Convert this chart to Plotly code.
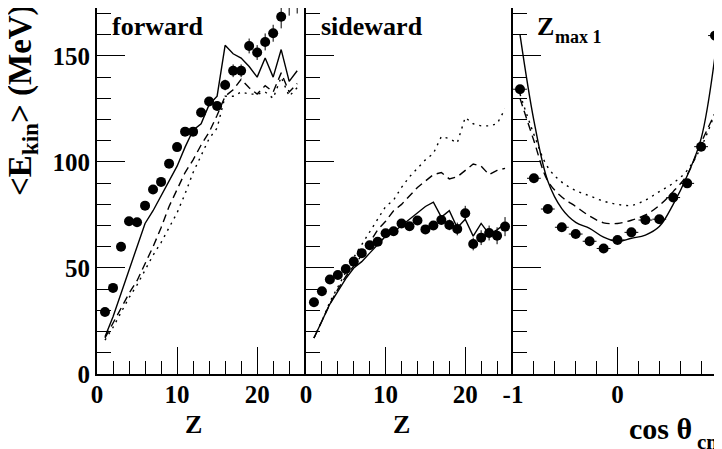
import plotly.graph_objects as go

# forward panel
z_fwd = list(range(1, 26))
fwd_data = [29.2, 40.6, 60.0, 72.0, 71.6, 79.4, 87.0, 90.6, 99.2, 107.0, 114.3, 114.3, 123.3,
            128.5, 126.4, 136.3, 143.0, 143.0, 154.7, 151.6, 156.6, 160.7, 168.5, 182.0, 185.0]
fwd_err = [1, 1, 1, 1, 1, 1, 1, 1, 1.2, 1.2, 1.5, 1.5, 1.8, 2, 2, 2.5, 3, 3, 3.5, 3.5, 4, 4, 5.5, 13, 15]
fwd_solid = [17.6, 27, 38, 49, 60, 71, 77, 84, 91, 98, 107, 115, 118, 127, 131, 155, 151, 149,
             145, 140, 149, 140, 153, 138, 143]
fwd_dash = [17, 24, 31, 38, 44, 52, 60, 69, 79, 87, 95, 101, 108, 114, 122, 131, 134, 139,
            135, 132, 136, 133, 142, 133, 137]
fwd_dot = [16, 22, 29, 36, 42, 49, 56, 62, 69, 76, 85, 95, 103, 111, 116, 131, 131, 133,
           132, 132, 133, 130, 140, 131, 135]

# sideward panel
z_side = list(range(1, 26))
side_data = [33.8, 39.0, 44.6, 46.7, 49.5, 53.0, 57.0, 60.7, 62.4, 66.4, 67.3, 71.0, 69.7,
             72.4, 68.2, 70.0, 72.6, 70.3, 68.4, 75.8, 61.3, 64.3, 66.5, 65.2, 69.5]
side_err = [1, 1, 1, 1, 1, 1, 1, 1, 1, 1, 1.2, 1.2, 1.5, 1.5, 1.8, 2, 2, 2.5, 3, 3.5, 3, 3.5, 3.5, 4, 4.5]
side_solid = [17, 25, 33, 39, 45, 50, 53, 57, 61, 65, 67, 70, 73, 76, 79, 81, 74, 77, 69, 73,
              65, 71, 66, 68, 71]
side_dash = [17, 25, 33, 40, 46, 51, 56, 62, 68, 72, 77, 80, 84, 88, 91, 94, 95, 92, 93, 96,
             99, 98, 94, 96, 97]
side_dot = [17, 25, 34, 41, 48, 55, 61, 67, 73, 79, 82, 88, 93, 97, 101, 104, 112, 111, 109,
            121, 118, 117, 117, 118, 125]

# Zmax1 panel
cos_bins = [-0.933, -0.8, -0.667, -0.533, -0.4, -0.267, -0.133, 0.0, 0.133, 0.267, 0.4,
            0.533, 0.667, 0.8, 0.933]
z1_data = [134.3, 92.3, 77.8, 69.2, 66.0, 62.6, 59.2, 63.2, 66.8, 72.6, 73.0, 83.2, 89.9, 107.2, 159.6]
z1_err = [1.5, 1.2, 1, 1, 1, 1, 1, 1, 1, 1, 1, 1.2, 1.2, 1.5, 2]
z1_solid = [160, 119.5, 91, 78, 71.5, 68.7, 64.5, 62.5, 64, 65.5, 69.5, 80, 93.5, 111, 150]
z1_dash = [130, 110, 91, 83.5, 79, 74.5, 71.3, 71, 72.5, 75, 79.5, 86, 94, 109, 123]
z1_dot = [132, 113, 97.5, 90.5, 86.5, 84, 81.5, 80, 79.5, 82, 86, 90, 96, 107, 123]

FONT = 'Liberation Serif'
BLACK = 'black'

fig = go.Figure()

panels = [
    ('x', 'y', z_fwd, fwd_data, fwd_err, fwd_solid, fwd_dash, fwd_dot, 'linear', None),
    ('x2', 'y2', z_side, side_data, side_err, side_solid, side_dash, side_dot, 'linear', None),
    ('x3', 'y3', cos_bins, z1_data, z1_err, z1_solid, z1_dash, z1_dot, 'spline', 0.066),
]

for xa, ya, xs, data, err, solid, dash, dot, shape, xerr in panels:
    for ys, d in [(solid, 'solid'), (dash, '8px,5px'), (dot, '2px,5px')]:
        fig.add_trace(go.Scatter(x=xs, y=ys, xaxis=xa, yaxis=ya, mode='lines',
                                 line=dict(color=BLACK, width=1.4, dash=d, shape=shape)))
    ex = dict(type='constant', value=xerr, width=0, thickness=1, color=BLACK) if xerr else None
    fig.add_trace(go.Scatter(x=xs, y=data, xaxis=xa, yaxis=ya, mode='markers',
                             marker=dict(size=10, color=BLACK),
                             error_y=dict(type='data', array=err, width=0, thickness=1, color=BLACK),
                             error_x=ex))

tickfont = dict(family=FONT, size=25, color=BLACK, weight='bold')
common_x = dict(ticks='inside', ticklen=27, tickwidth=1, tickcolor=BLACK, showline=True,
                linewidth=2, linecolor=BLACK, mirror=True, showgrid=False, zeroline=False,
                tickfont=tickfont, automargin=False, ticklabelstandoff=-3)
common_y = dict(range=[0, 172.6], tickvals=[0, 50, 100, 150], ticks='inside', ticklen=28,
                tickwidth=1, tickcolor=BLACK, showline=True, linewidth=2, linecolor=BLACK,
                showgrid=False, zeroline=False, tickfont=tickfont, automargin=False,
                minor=dict(tickmode='linear', tick0=0, dtick=10, ticks='inside', ticklen=14,
                           tickwidth=1, tickcolor=BLACK))

d1 = 209 / 625
d2 = 416 / 625

# the page body adds 8px, so the margins are shifted by that much
fig.update_layout(
    width=722, height=449,
    margin=dict(l=89, r=8, t=0, b=83),
    paper_bgcolor='white', plot_bgcolor='white',
    showlegend=False,
    font=dict(family=FONT, color=BLACK, weight='bold'),
    xaxis=dict(domain=[0, d1], range=[0, 26.1], anchor='y', tickvals=[0, 10, 20],
               minor=dict(tickmode='linear', tick0=0, dtick=2, ticks='inside', ticklen=13,
                          tickwidth=1, tickcolor=BLACK), **common_x),
    xaxis2=dict(domain=[d1, d2], range=[0, 26], anchor='y2', tickvals=[0, 10, 20],
                minor=dict(tickmode='linear', tick0=0, dtick=2, ticks='inside', ticklen=13,
                           tickwidth=1, tickcolor=BLACK), **common_x),
    xaxis3=dict(domain=[d2, 1], range=[-1, 1], anchor='y3', tickvals=[-1, 0, 1],
                ticktext=['-1', '0', '1'],
                minor=dict(tickmode='linear', tick0=-1, dtick=0.2, ticks='inside', ticklen=13,
                           tickwidth=1, tickcolor=BLACK), **common_x),
    yaxis=dict(anchor='x', mirror=False, **common_y),
    yaxis2=dict(anchor='x2', showticklabels=False, mirror=False, **common_y),
    yaxis3=dict(anchor='x3', showticklabels=False, mirror=True, **common_y),
)


def label(text, xref, x, yref, y, size, yshift=0, anchor='left', angle=0):
    fig.add_annotation(text=text, xref=xref, yref=yref, x=x, y=y, xanchor=anchor,
                       yanchor='middle', yshift=yshift, textangle=angle, showarrow=False,
                       font=dict(family=FONT, size=size, color=BLACK, weight='bold'))


label('forward', 'x', 1.6, 'y', 164, 26)
label('sideward', 'x2', 1.6, 'y2', 164, 26)
label('Z', 'x3', -0.789, 'y3', 164, 26)
label('max 1', 'x3', -0.617, 'y3', 159, 18)
label('Z', 'x', 12, 'paper', 0, 26, yshift=-50, anchor='center')
label('Z', 'x2', 12, 'paper', 0, 26, yshift=-50, anchor='center')
label('cos θ', 'x3', 0.091, 'paper', 0, 30, yshift=-54)
label('cm', 'x3', 0.742, 'paper', 0, 21, yshift=-68)
label('&lt;E<sub>kin</sub>&gt; (MeV)', 'paper', -0.1184, 'paper', (366 - 92) / 366, 33,
      anchor='center', angle=-90)

fig.write_html("out.html")
